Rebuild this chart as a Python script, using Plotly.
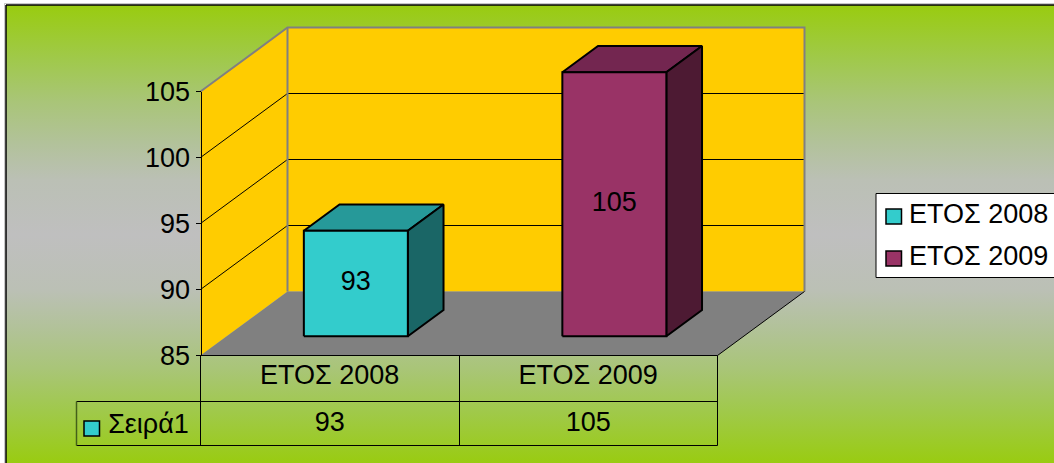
import plotly.graph_objects as go

categories = ["ΕΤΟΣ 2008", "ΕΤΟΣ 2009"]
values = [93, 105]
series_name = "Σειρά1"
y_ticks = [85, 90, 95, 100, 105]

front_colors = ["#33CCCC", "#993366"]
top_colors = ["#269999", "#732650"]
side_colors = ["#1A6666", "#4D1A33"]

W, H = 1054, 463
FONT = "Liberation Sans"

# pixel layout of the front plane of the 3D box
X0 = 200.5
CAT_W = 258.5
Y85 = 355.5
UNIT = 13.2
Y_MIN = y_ticks[0]
Y_MAX = y_ticks[-1]

# how far the back wall is shifted, in axis units
DX = 87 / CAT_W
DY = 64 / UNIT

BAR_HALF = 52 / CAT_W
BAR_FRONT = 0.30
BAR_BACK = 0.71

bg_scale = [
    [0, "#99CC0F"], [0.12, "#A0C94C"], [0.21, "#A9C578"], [0.30, "#B2C29A"],
    [0.38, "#BBC0B5"], [0.5, "#BFBFBF"],
    [0.62, "#BBC0B5"], [0.70, "#B2C29A"], [0.79, "#A9C578"], [0.88, "#A0C94C"], [1, "#99CC0F"],
]


def x_at(px):
    return (px - X0) / CAT_W


def y_at(px):
    return Y_MIN + (Y85 - px) / UNIT


def proj(x, v, d):
    return x + d * DX, v + d * DY


fig = go.Figure()


def poly(points, fill=None, line=None, width=1, closed=True):
    pts = [proj(*p) for p in points]
    if closed:
        pts.append(pts[0])
    fig.add_trace(go.Scatter(
        x=[p[0] for p in pts], y=[p[1] for p in pts],
        mode="lines", fill="toself" if fill else None, fillcolor=fill,
        line=dict(color=line or "rgba(0,0,0,0)", width=width),
        hoverinfo="skip",
    ))


def texts(xs, ys, labels, size=27):
    fig.add_trace(go.Scatter(
        x=xs, y=ys, text=labels, mode="text", textposition="middle center",
        textfont=dict(family=FONT, size=size, color="black"),
        hoverinfo="skip",
    ))


# background with the green / silver / green gradient
bg_x = [x_at(6), x_at(W + 2), x_at(W + 2), x_at(6), x_at(6)]
bg_y = [y_at(5), y_at(5), y_at(H + 2), y_at(H + 2), y_at(5)]
fig.add_trace(go.Scatter(
    x=bg_x, y=bg_y, mode="lines", fill="toself",
    fillgradient=dict(type="vertical", colorscale=bg_scale),
    line=dict(color="rgba(0,0,0,0)", width=0), hoverinfo="skip",
))

# walls and floor
n = len(categories)
poly([(0, Y_MIN, 0), (0, Y_MAX, 0), (0, Y_MAX, 1), (0, Y_MIN, 1)], fill="#FFCC00")
poly([(0, Y_MIN, 1), (n, Y_MIN, 1), (n, Y_MAX, 1), (0, Y_MAX, 1)], fill="#FFCC00")
poly([(0, Y_MIN, 0), (n, Y_MIN, 0), (n, Y_MIN, 1), (0, Y_MIN, 1)], fill="#808080")

# gridlines, side wall then back wall
for t in y_ticks[1:-1]:
    poly([(0, t, 0), (0, t, 1), (n, t, 1)], line="black", closed=False)

poly([(0, Y_MAX, 0), (0, Y_MAX, 1), (n, Y_MAX, 1), (n, Y_MIN, 1)], line="#808080", width=2, closed=False)
poly([(0, Y_MIN, 1), (0, Y_MAX, 1)], line="#808080", width=2, closed=False)
poly([(0, Y_MIN, 0), (n, Y_MIN, 0), (n, Y_MIN, 1)], line="black", closed=False)

# bars
for i, v in enumerate(values):
    a = i + 0.5 - BAR_HALF
    b = i + 0.5 + BAR_HALF
    poly([(a, v, BAR_FRONT), (b, v, BAR_FRONT), (b, v, BAR_BACK), (a, v, BAR_BACK)],
         fill=top_colors[i], line="black", width=2)
    poly([(b, Y_MIN, BAR_FRONT), (b, Y_MIN, BAR_BACK), (b, v, BAR_BACK), (b, v, BAR_FRONT)],
         fill=side_colors[i], line="black", width=2)
    poly([(a, Y_MIN, BAR_FRONT), (b, Y_MIN, BAR_FRONT), (b, v, BAR_FRONT), (a, v, BAR_FRONT)],
         fill=front_colors[i], line="black", width=2)

# labels on the bars
label_pts = [proj(i + 0.5, (Y_MIN + v) / 2, BAR_FRONT) for i, v in enumerate(values)]
texts([p[0] for p in label_pts], [p[1] for p in label_pts], [str(v) for v in values])

# data table under the chart
ROW_TOP, ROW_MID, ROW_BOT = 355.5, 401.5, 445.5
TABLE_LEFT = 76.5
TABLE_X = [200.5, 459.5, 717.5]
for px_y in [ROW_MID, ROW_BOT]:
    fig.add_trace(go.Scatter(x=[x_at(TABLE_LEFT), x_at(TABLE_X[-1])], y=[y_at(px_y), y_at(px_y)], mode="lines",
                             line=dict(color="black", width=1), hoverinfo="skip"))
for px_x in TABLE_X:
    fig.add_trace(go.Scatter(x=[x_at(px_x), x_at(px_x)], y=[y_at(ROW_TOP), y_at(ROW_BOT)], mode="lines",
                             line=dict(color="black", width=1), hoverinfo="skip"))
fig.add_trace(go.Scatter(x=[x_at(TABLE_LEFT), x_at(TABLE_LEFT)], y=[y_at(ROW_MID), y_at(ROW_BOT)], mode="lines",
                         line=dict(color="#44601A", width=1.5), hoverinfo="skip"))
texts([i + 0.5 for i in range(n)], [y_at(377)] * n, categories)
texts([i + 0.5 for i in range(n)], [y_at(424)] * n, [str(v) for v in values])
texts([x_at(148.5)], [y_at(426)], [series_name])

# real value axis, tied to the front plane
fig.add_trace(go.Scatter(x=[0], y=[Y_MIN], yaxis="y2", mode="markers",
                         marker=dict(opacity=0), hoverinfo="skip"))


def box(x0, y0, x1, y1, fill, width=1):
    return dict(type="rect", xref="paper", yref="paper", x0=x0 / W, x1=x1 / W,
                y0=1 - y0 / H, y1=1 - y1 / H, fillcolor=fill,
                line=dict(color="black", width=width), layer="above")


def label(px, py, s, size=27):
    return dict(xref="paper", yref="paper", x=px / W, y=1 - py / H, text=s, showarrow=False,
                xanchor="left", yanchor="middle", font=dict(family=FONT, size=size, color="black"))


shapes = [
    # frame of the chart area
    dict(type="line", xref="paper", yref="paper", x0=6 / W, x1=1, y0=1 - 5 / H, y1=1 - 5 / H,
         line=dict(color="black", width=1.5)),
    dict(type="line", xref="paper", yref="paper", x0=6 / W, x1=6 / W, y0=0, y1=1 - 5 / H,
         line=dict(color="black", width=1.5)),
    dict(type="line", xref="paper", yref="paper", x0=0.004, x1=1, y0=1 - 3.5 / H, y1=1 - 3.5 / H,
         line=dict(color="#C8C8C8", width=1)),
    dict(type="line", xref="paper", yref="paper", x0=4.5 / W, x1=4.5 / W, y0=0, y1=1 - 3.5 / H,
         line=dict(color="#C8C8C8", width=1)),
    # legend
    box(876, 193.5, W + 5, 277.5, "white"),
    box(886, 209, 901.5, 224, front_colors[0], 1.5),
    box(886, 251, 901.5, 266, front_colors[1], 1.5),
    # swatch in the table
    box(84, 421, 99.5, 436, front_colors[0], 1.5),
]

annotations = [
    label(907, 214, categories[0]),
    label(907, 256, categories[1]),
]

fig.update_layout(
    width=W, height=H, margin=dict(l=0, r=0, t=0, b=0),
    paper_bgcolor="white", plot_bgcolor="rgba(0,0,0,0)",
    showlegend=False, shapes=shapes, annotations=annotations,
    xaxis=dict(visible=False, range=[x_at(0), x_at(W)], fixedrange=True),
    yaxis=dict(visible=False, range=[y_at(H), y_at(0)], fixedrange=True),
    yaxis2=dict(
        anchor="free", position=X0 / W, side="left",
        domain=[1 - Y85 / H, 1 - (Y85 - (Y_MAX - Y_MIN) * UNIT) / H],
        range=[Y_MIN, Y_MAX], tickvals=y_ticks, ticks="outside", ticklen=5,
        tickcolor="black", showline=True, linecolor="black", linewidth=1,
        showgrid=False, zeroline=False, fixedrange=True,
        tickfont=dict(family=FONT, size=27, color="black"),
        automargin=False,
    ),
)

# the page's default body margin would push the chart off the window
fig.write_html("out.html", post_script="document.body.style.margin='0';document.body.style.overflow='hidden';", config={"displayModeBar": False})
